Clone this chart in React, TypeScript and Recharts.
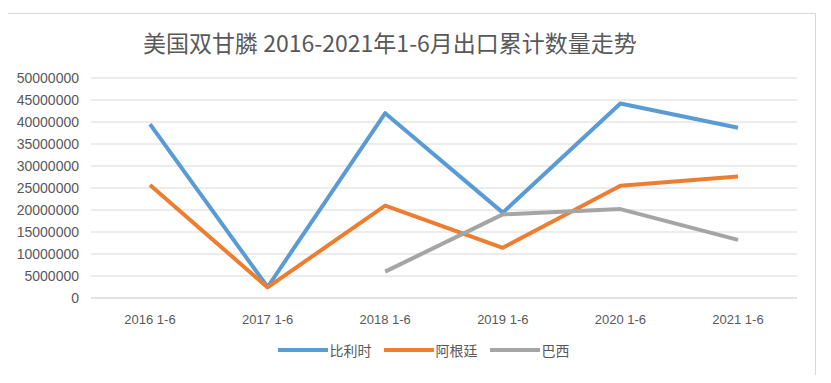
import { LineChart, Line, XAxis, YAxis, CartesianGrid } from "recharts";

const categories = ["2016 1-6", "2017 1-6", "2018 1-6", "2019 1-6", "2020 1-6", "2021 1-6"];
const belgium = [39500000, 2500000, 42000000, 19400000, 44200000, 38700000];
const argentina = [25700000, 2400000, 21000000, 11400000, 25500000, 27600000];
const brazil: (number | null)[] = [null, null, 6000000, 19000000, 20200000, 13200000];
const yTicks = [0, 5000000, 10000000, 15000000, 20000000, 25000000, 30000000, 35000000, 40000000, 45000000, 50000000];

const series = [
  { key: "比利时", color: "#5B9BD5", values: belgium },
  { key: "阿根廷", color: "#ED7D31", values: argentina },
  { key: "巴西", color: "#A5A5A5", values: brazil },
];

const data = categories.map((c, i) => {
  const row: Record<string, string | number | null> = { name: c };
  series.forEach((s) => (row[s.key] = s.values[i]));
  return row;
});

const font = "'Liberation Sans', 'Noto Sans CJK SC', sans-serif";

export default function App() {
  return (
    <div style={{ position: "relative", width: 831, height: 383, margin: -8, background: "#fff", overflow: "hidden" }}>
      <div style={{ position: "absolute", left: 3, top: 13, width: 811, height: 363, border: "1px solid #d9d9d9" }} />
      <div
        style={{
          position: "absolute",
          top: 26,
          left: 0,
          width: 780,
          textAlign: "center",
          fontFamily: "'Noto Sans CJK SC', sans-serif",
          fontSize: 23,
          color: "#595959",
          lineHeight: "32px",
        }}
      >
        美国双甘膦 2016-2021年1-6月出口累计数量走势
      </div>
      <LineChart width={831} height={383} data={data} margin={{ top: 78, right: 34, bottom: 55, left: 3 }} style={{ position: "absolute", top: 0, left: 0 }}>
        <CartesianGrid vertical={false} stroke="#d9d9d9" />
        <XAxis
          dataKey="name"
          axisLine={{ stroke: "#d9d9d9" }}
          tickLine={false}
          padding={{ left: 59, right: 59 }}
          tick={{ fill: "#595959", fontSize: 13, fontFamily: font }}
          tickMargin={11}
          height={30}
        />
        <YAxis
          domain={[0, 50000000]}
          ticks={yTicks}
          interval={0}
          axisLine={false}
          tickLine={false}
          width={88}
          tick={{ fill: "#595959", fontSize: 14, fontFamily: font }}
          tickMargin={6}
        />
        {series.map((s) => (
          <Line key={s.key} dataKey={s.key} stroke={s.color} strokeWidth={4} dot={false} isAnimationActive={false} strokeLinejoin="round" connectNulls={false} />
        ))}
      </LineChart>
      <div
        style={{
          position: "absolute",
          top: 340,
          left: 8,
          width: 831,
          display: "flex",
          justifyContent: "center",
          gap: 12,
          fontFamily: "'Noto Sans CJK SC', sans-serif",
          fontSize: 14,
          color: "#595959",
        }}
      >
        {series.map((s) => (
          <div key={s.key} style={{ display: "flex", alignItems: "center" }}>
            <span style={{ width: 50, height: 4, background: s.color, display: "inline-block", marginRight: 2 }} />
            <span>{s.key}</span>
          </div>
        ))}
      </div>
    </div>
  );
}
